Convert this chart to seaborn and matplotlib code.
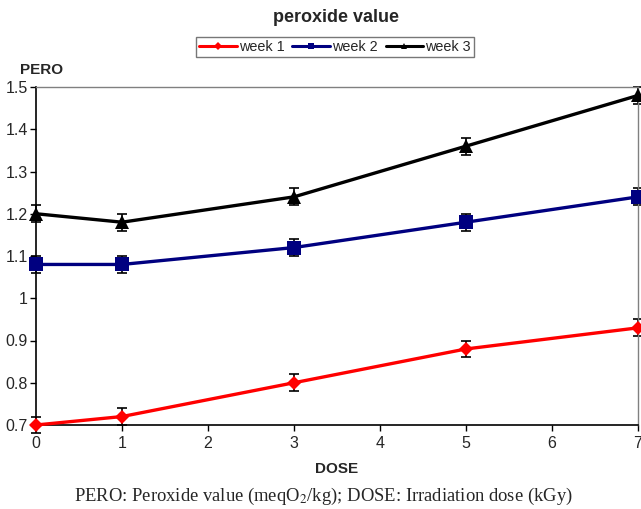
import matplotlib
matplotlib.use("Agg")
import matplotlib.pyplot as plt
import seaborn as sns
import pandas as pd
import numpy as np
from matplotlib.lines import Line2D

dose = [0, 1, 3, 5, 7]
week1 = [0.70, 0.72, 0.80, 0.88, 0.93]
week2 = [1.08, 1.08, 1.12, 1.18, 1.24]
week3 = [1.20, 1.18, 1.24, 1.36, 1.48]
err1 = [0.02, 0.02, 0.02, 0.02, 0.02]
err2 = [0.02, 0.02, 0.02, 0.02, 0.02]
err3 = [0.02, 0.02, 0.02, 0.02, 0.02]
series_names = ["week 1", "week 2", "week 3"]

sns.set_style("white")
plt.rcParams["font.family"] = ["Liberation Sans", "DejaVu Sans"]

rows = []
for name, vals, errs in zip(series_names, [week1, week2, week3], [err1, err2, err3]):
    for d, v, e in zip(dose, vals, errs):
        rows.append({"DOSE": d, "PERO": v, "err": e, "series": name})
df = pd.DataFrame(rows)

colors = {"week 1": "#ff0000", "week 2": "#000080", "week 3": "#000000"}
markers = {"week 1": "D", "week 2": "s", "week 3": "^"}
msizes = {"week 1": 7.5, "week 2": 9.5, "week 3": 9.5}

fig = plt.figure(figsize=(6.41, 5.09), dpi=100)
ax = fig.add_axes([36 / 641, 1 - 425 / 509, (638 - 36) / 641, (425 - 87) / 509])

for name in series_names:
    sub = df[df["series"] == name]
    ax.errorbar(sub["DOSE"], sub["PERO"], yerr=sub["err"], fmt="none",
                ecolor="black", elinewidth=1.2, capsize=3.5, capthick=1.2,
                zorder=2, clip_on=False)

sns.lineplot(data=df, x="DOSE", y="PERO", hue="series", style="series",
             palette=colors, markers=markers, dashes=False, linewidth=2.4,
             markeredgewidth=0, ax=ax, legend=False, zorder=3)
for line, name in zip(ax.lines[-3:], series_names):
    line.set_markersize(msizes[name])
    line.set_clip_on(False)

ax.set_xlim(0, 7)
ax.set_ylim(0.7, 1.5)
ax.set_xticks(range(0, 8))
ax.set_yticks([0.7, 0.8, 0.9, 1.0, 1.1, 1.2, 1.3, 1.4, 1.5])
ax.set_yticklabels(["0.7", "0.8", "0.9", "1", "1.1", "1.2", "1.3", "1.4", "1.5"])
ax.tick_params(axis="both", direction="out", length=4, width=1, color="black",
               labelsize=11.5, bottom=True, left=True, pad=2)
ax.tick_params(axis="x", pad=4)
ax.set_xlabel("DOSE", fontsize=11, fontweight="bold", labelpad=8)
ax.set_ylabel("")
ax.text(-0.026, 1.03, "PERO", transform=ax.transAxes, fontsize=11,
        fontweight="bold", ha="left", va="bottom")

for side in ["left", "bottom"]:
    ax.spines[side].set_color("black")
    ax.spines[side].set_linewidth(1.2)
for side in ["top", "right"]:
    ax.spines[side].set_color("#808080")
    ax.spines[side].set_linewidth(1.0)

handles = [Line2D([0], [0], color=colors[n], marker=markers[n], markersize=4.5,
                  linewidth=2.2, markeredgewidth=0) for n in series_names]
fig.legend(handles, series_names, loc="center", bbox_to_anchor=(335 / 641, 1 - 47 / 509),
           ncol=3, frameon=True, fancybox=False, edgecolor="#555555",
           fontsize=10.4, handlelength=2.6, handletextpad=0.15, columnspacing=0.55,
           borderpad=0.2, borderaxespad=0)
fig.text(336 / 641, 1 - 18 / 509, "peroxide value", ha="center", va="center",
         fontsize=13, fontweight="bold")

fig.text(0.505, 1 - 496 / 509,
         "PERO: Peroxide value (meqO$_2$/kg); DOSE: Irradiation dose (kGy)",
         ha="center", va="center", fontsize=13.4, family="Liberation Serif",
         math_fontfamily="stix")

fig.savefig("out.png", dpi=100, facecolor="white")
